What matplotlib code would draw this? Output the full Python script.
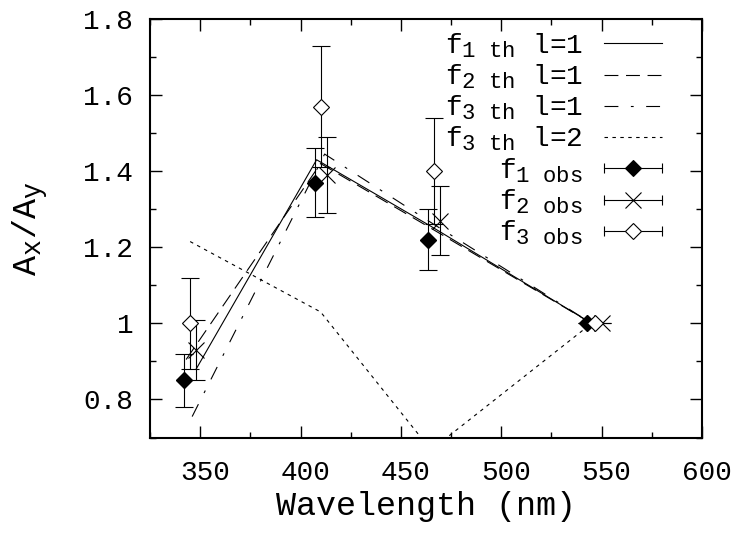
import matplotlib
matplotlib.use('Agg')
import matplotlib.pyplot as plt
import matplotlib._mathtext as mathtext_impl
from matplotlib.lines import Line2D
from matplotlib.legend_handler import HandlerLine2D
from matplotlib.ticker import MultipleLocator, FuncFormatter
from matplotlib.transforms import ScaledTranslation

plt.rcParams['font.family'] = 'Liberation Mono'
plt.rcParams['mathtext.fontset'] = 'custom'
plt.rcParams['mathtext.rm'] = 'Liberation Mono'
plt.rcParams['mathtext.default'] = 'regular'
plt.rcParams['lines.scale_dashes'] = False
# gnuplot subscripts are 0.8 of the base size
mathtext_impl.SHRINK_FACTOR = 0.8

# theoretical curves
th1_x = [348, 408, 465, 545]
th1_y = [0.88, 1.43, 1.255, 1.0]
th2_x = [343, 410, 465, 545]
th2_y = [0.905, 1.42, 1.25, 1.0]
th3_x = [346, 412, 465, 545]
th3_y = [0.755, 1.445, 1.265, 1.0]
th3b_x = [345, 410, 465, 545]
th3b_y = [1.215, 1.03, 0.667, 1.0]

# observed ratios
obs1_x = [342, 407, 463.5, 542.5]
obs1_y = [0.85, 1.37, 1.22, 1.0]
obs1_err = [0.07, 0.09, 0.08, 0.0]
obs2_x = [348, 413, 469.5, 550]
obs2_y = [0.93, 1.39, 1.27, 1.0]
obs2_err = [0.08, 0.10, 0.09, 0.0]
obs3_x = [345, 410, 466.5, 546.5]
obs3_y = [1.0, 1.57, 1.40, 1.0]
obs3_err = [0.12, 0.16, 0.14, 0.0]

W, H = 737, 533
fig = plt.figure(figsize=(W / 100, H / 100), dpi=100)
ax = fig.add_axes([150 / W, 1 - 437.5 / H, 552 / W, 418.5 / H])

lw = 0.8
l1, = ax.plot(th1_x, th1_y, color='k', lw=lw, ls='-')
l2, = ax.plot(th2_x, th2_y, color='k', lw=lw, ls=(0, (10, 5.5)))
l3, = ax.plot(th3_x, th3_y, color='k', lw=lw, ls=(0, (10, 9, 2, 9)))
l4, = ax.plot(th3b_x, th3b_y, color='k', lw=lw, ls=(0, (2.5, 3.2)))

ms = 8.5
cap = 6.5
ax.errorbar(obs1_x, obs1_y, yerr=obs1_err, fmt='D', color='k', mfc='k', mec='k',
            ms=ms, capsize=cap, elinewidth=lw, capthick=lw, zorder=3)
ax.errorbar(obs2_x, obs2_y, yerr=obs2_err, fmt='x', color='k', ms=12, mew=lw,
            capsize=cap, elinewidth=lw, capthick=lw, zorder=3)
ax.errorbar(obs3_x, obs3_y, yerr=obs3_err, fmt='D', color='k', mfc='white', mec='k',
            ms=ms, mew=lw, capsize=cap, elinewidth=lw, capthick=lw, zorder=3)

ax.set_xlim(325, 600)
ax.set_ylim(0.7, 1.8)
ax.xaxis.set_major_locator(MultipleLocator(50))
ax.xaxis.set_minor_locator(MultipleLocator(25))
ax.yaxis.set_major_locator(MultipleLocator(0.2))
ax.yaxis.set_minor_locator(MultipleLocator(0.1))
ax.yaxis.set_major_formatter(FuncFormatter(lambda v, p: '%g' % v))
ax.tick_params(which='both', direction='in', top=True, right=True, width=1.0,
               labelsize=20)
ax.tick_params(which='major', length=8.6)
ax.tick_params(axis='y', which='major', pad=12)
ax.tick_params(axis='x', which='major', pad=16)
ax.tick_params(which='minor', length=4.3)
for s in ax.spines.values():
    s.set_linewidth(1.5)

shift = ScaledTranslation(5 / 100, 0, fig.dpi_scale_trans)
for lbl in ax.get_xticklabels():
    lbl.set_transform(lbl.get_transform() + shift)

ax.set_xlabel('Wavelength (nm)', fontsize=24)
ax.set_ylabel('A$_x$/A$_y$', fontsize=24)
ax.xaxis.set_label_coords(0.5, -0.166)
ax.xaxis.label.set_va('center')
ax.yaxis.set_label_coords(-0.217, 0.5)
ax.yaxis.label.set_va('center')

# legend, gnuplot style: text on the left, sample on the right
def obs_handle(marker, mfc, msize):
    bar = Line2D([], [], color='k', lw=lw, marker='|', ms=7, mew=lw)
    mk = Line2D([], [], ls='none', color='k', marker=marker, ms=msize,
                mfc=mfc, mec='k', mew=lw)
    return bar, mk

b1, m1 = obs_handle('D', 'k', ms)
b2, m2 = obs_handle('x', 'k', 12)
b3, m3 = obs_handle('D', 'white', ms)
hmap = {b: HandlerLine2D(numpoints=2, marker_pad=0) for b in (b1, b2, b3)}

handles = [l1, l2, l3, l4, (b1, m1), (b2, m2), (b3, m3)]
labels = [r'f$_{\text{1 th}}$ l=1', r'f$_{\text{2 th}}$ l=1',
          r'f$_{\text{3 th}}$ l=1', r'f$_{\text{3 th}}$ l=2',
          r'f$_{\text{1 obs}}$', r'f$_{\text{2 obs}}$', r'f$_{\text{3 obs}}$']
leg = ax.legend(handles, labels, handler_map=hmap, loc='upper right',
                bbox_to_anchor=(662 / W, 1 - 31 / H), bbox_transform=fig.transFigure,
                frameon=False, fontsize=20, markerfirst=False, borderpad=0,
                borderaxespad=0, handlelength=2.09, handletextpad=0.75,
                labelspacing=0.1, numpoints=1)

fig.savefig('out.png', dpi=100)
